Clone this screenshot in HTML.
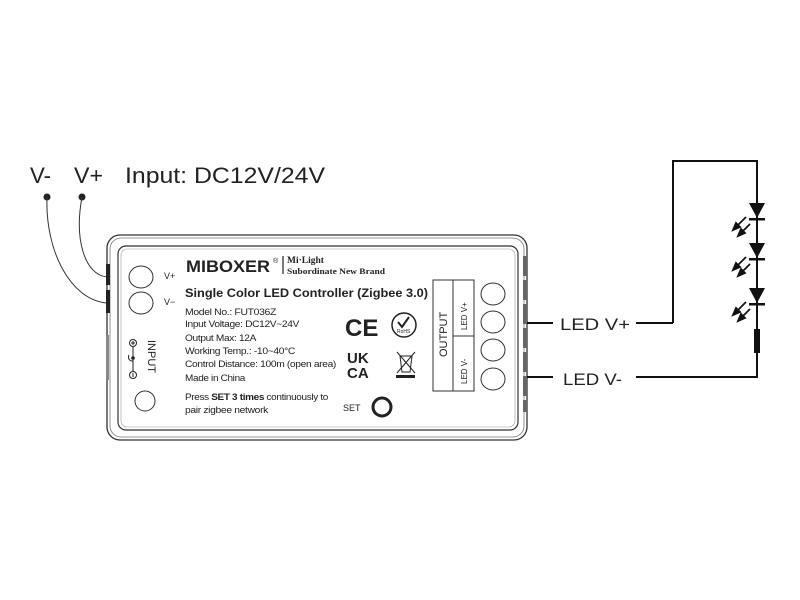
<!DOCTYPE html>
<html><head><meta charset="utf-8"><style>
html,body{margin:0;padding:0;background:#fff}
svg{display:block}
text{font-family:"Liberation Sans",sans-serif;fill:#222}
</style></head><body>
<svg width="800" height="600" viewBox="0 0 800 600" xmlns="http://www.w3.org/2000/svg">
<rect width="800" height="600" fill="#fff"/>
<!-- top labels -->
<text x="30" y="183" font-size="22" fill="#333" textLength="21" lengthAdjust="spacingAndGlyphs">V-</text>
<text x="74" y="183" font-size="22" fill="#333" textLength="29" lengthAdjust="spacingAndGlyphs">V+</text>
<text x="125" y="183" font-size="22" fill="#333" textLength="200" lengthAdjust="spacingAndGlyphs">Input: DC12V/24V</text>
<circle cx="47" cy="197" r="3.5" fill="#222"/>
<circle cx="82" cy="197" r="3.5" fill="#222"/>
<path d="M47 197 C45 250 70 300 107 303" fill="none" stroke="#333" stroke-width="1"/>
<path d="M82 197 C74 240 85 275 107 277" fill="none" stroke="#333" stroke-width="1"/>
<!-- box -->
<rect x="107" y="235" width="420" height="205" rx="13" fill="none" stroke="#333" stroke-width="1.3"/>
<rect x="110" y="238" width="414" height="199" rx="11" fill="none" stroke="#777" stroke-width="0.8"/>
<rect x="118" y="246" width="400" height="184" rx="8" fill="none" stroke="#333" stroke-width="1.2"/>
<rect x="121" y="249" width="394" height="178" rx="6" fill="none" stroke="#999" stroke-width="0.6"/>
<!-- left tabs -->
<rect x="106" y="264" width="4" height="21" fill="#222"/>
<rect x="106" y="290" width="4" height="23" fill="#222"/>
<rect x="106" y="335" width="3" height="45" fill="#888"/>
<!-- right strip -->
<g fill="#666">
<rect x="523" y="256" width="4" height="20"/><rect x="523" y="280" width="4" height="20"/>
<rect x="523" y="304" width="4" height="20"/><rect x="523" y="328" width="4" height="20"/>
<rect x="523" y="352" width="4" height="20"/><rect x="523" y="376" width="4" height="20"/>
<rect x="523" y="400" width="4" height="12"/>
</g>
<!-- left circles -->
<g fill="none" stroke="#333" stroke-width="1">
<ellipse cx="141" cy="277" rx="12" ry="11"/>
<ellipse cx="141" cy="303" rx="12" ry="11"/>
<ellipse cx="145" cy="401" rx="10" ry="10"/>
</g>
<text x="164" y="279" font-size="9">V+</text>
<text x="164" y="305" font-size="9">V−</text>
<!-- input symbol -->
<g stroke="#222" stroke-width="1" fill="none">
<circle cx="133" cy="343" r="3.5"/><line x1="131" y1="343" x2="135" y2="343"/><line x1="133" y1="341" x2="133" y2="345"/>
<line x1="133" y1="347" x2="133" y2="372"/>
<path d="M129 355 A4 4 0 0 0 133 361"/>
<circle cx="133" cy="375" r="3.5"/><line x1="133" y1="373" x2="133" y2="377"/>
</g>
<circle cx="133" cy="358" r="1.8" fill="#222"/>
<text transform="translate(148,340) rotate(90)" font-size="11">INPUT</text>
<!-- logo -->
<text x="186" y="272" font-size="17" font-weight="bold" textLength="84" lengthAdjust="spacingAndGlyphs">MIBOXER</text>
<text x="273" y="263" font-size="7">®</text>
<line x1="283" y1="256" x2="283" y2="274" stroke="#222" stroke-width="1.2"/>
<text x="287" y="263" font-size="9.5" font-weight="bold" style="font-family:'Liberation Serif',serif">Mi·Light</text>
<text x="287" y="274" font-size="8.5" font-weight="bold" style="font-family:'Liberation Serif',serif" textLength="98" lengthAdjust="spacingAndGlyphs">Subordinate New Brand</text>
<text x="185" y="297" font-size="12" font-weight="bold" textLength="243" lengthAdjust="spacingAndGlyphs">Single Color LED Controller (Zigbee 3.0)</text>
<g font-size="9" letter-spacing="-0.3">
<text x="185" y="315" textLength="91" lengthAdjust="spacingAndGlyphs">Model No.: FUT036Z</text>
<text x="185" y="327" textLength="114" lengthAdjust="spacingAndGlyphs">Input Voltage: DC12V~24V</text>
<text x="185" y="341" textLength="71" lengthAdjust="spacingAndGlyphs">Output Max: 12A</text>
<text x="185" y="354" textLength="110" lengthAdjust="spacingAndGlyphs">Working Temp.: -10~40°C</text>
<text x="185" y="367" textLength="151" lengthAdjust="spacingAndGlyphs">Control Distance: 100m (open area)</text>
<text x="185" y="381" textLength="60" lengthAdjust="spacingAndGlyphs">Made in China</text>
<text x="185" y="400" textLength="143" lengthAdjust="spacingAndGlyphs">Press <tspan font-weight="bold">SET 3 times</tspan> continuously to</text>
<text x="185" y="413" textLength="83" lengthAdjust="spacingAndGlyphs">pair zigbee network</text>
</g>
<text x="343" y="411" font-size="9">SET</text>
<circle cx="382" cy="407" r="9" fill="none" stroke="#222" stroke-width="3"/>
<!-- CE -->
<text x="345" y="336" font-size="24" font-weight="bold">CE</text>
<circle cx="404" cy="325" r="12" fill="none" stroke="#222" stroke-width="1.5"/>
<path d="M398 322 L402 327 L409 317" fill="none" stroke="#222" stroke-width="2"/>
<text x="397" y="333" font-size="5">RoHS</text>
<text x="347" y="363" font-size="15" font-weight="bold">UK</text>
<text x="347" y="378" font-size="15" font-weight="bold">CA</text>
<g stroke="#222" stroke-width="1" fill="none">
<path d="M400 356 L402 372 L410 372 L412 356 Z"/>
<line x1="397" y1="352" x2="415" y2="373"/><line x1="415" y1="352" x2="397" y2="373"/>
</g>
<rect x="396" y="375" width="19" height="3" fill="#222"/>
<!-- output table -->
<g stroke="#333" stroke-width="1" fill="none">
<rect x="433" y="280" width="41" height="111"/>
<line x1="453" y1="280" x2="453" y2="391"/>
<line x1="453" y1="336" x2="474" y2="336"/>
</g>
<text transform="translate(447,357) rotate(-90)" font-size="11">OUTPUT</text>
<text transform="translate(467,330) rotate(-90)" font-size="8">LED V+</text>
<text transform="translate(467,384) rotate(-90)" font-size="8">LED V-</text>
<g fill="none" stroke="#333" stroke-width="1">
<ellipse cx="493" cy="294" rx="12" ry="11"/>
<ellipse cx="493" cy="322" rx="12" ry="11"/>
<ellipse cx="493" cy="350" rx="12" ry="11"/>
<ellipse cx="493" cy="379" rx="12" ry="11"/>
</g>
<!-- right wiring -->
<g stroke="#111" stroke-width="2" fill="none">
<line x1="527" y1="323" x2="553" y2="323"/>
<line x1="636" y1="323" x2="673" y2="323"/>
<polyline points="673,323 673,161 757,161 757,378"/>
<line x1="527" y1="377" x2="553" y2="377"/>
<line x1="636" y1="377" x2="757" y2="377"/>
</g>
<text x="560" y="330" font-size="17" fill="#333" textLength="70" lengthAdjust="spacingAndGlyphs">LED V+</text>
<text x="563" y="385" font-size="17" fill="#333" textLength="59" lengthAdjust="spacingAndGlyphs">LED V-</text>
<g fill="#111">
<polygon points="749,203 765,203 757,218"/><rect x="749" y="218" width="16" height="2.5"/>
<polygon points="749,243 765,243 757,258"/><rect x="749" y="258" width="16" height="2.5"/>
<polygon points="749,288 765,288 757,303"/><rect x="749" y="303" width="16" height="2.5"/>
<rect x="754" y="329" width="6" height="24"/>
</g>
<g stroke="#111" stroke-width="1.8" fill="#111">
<line x1="746" y1="217" x2="736" y2="227"/><polygon points="733,230 740,227 736,223" />
<line x1="750" y1="224" x2="741" y2="233"/><polygon points="738,236 745,233 741,229"/>
<line x1="746" y1="257" x2="736" y2="267"/><polygon points="733,270 740,267 736,263"/>
<line x1="750" y1="264" x2="741" y2="273"/><polygon points="738,276 745,273 741,269"/>
<line x1="746" y1="302" x2="736" y2="312"/><polygon points="733,315 740,312 736,308"/>
<line x1="750" y1="309" x2="741" y2="318"/><polygon points="738,321 745,318 741,314"/>
</g>
</svg>
</body></html>
